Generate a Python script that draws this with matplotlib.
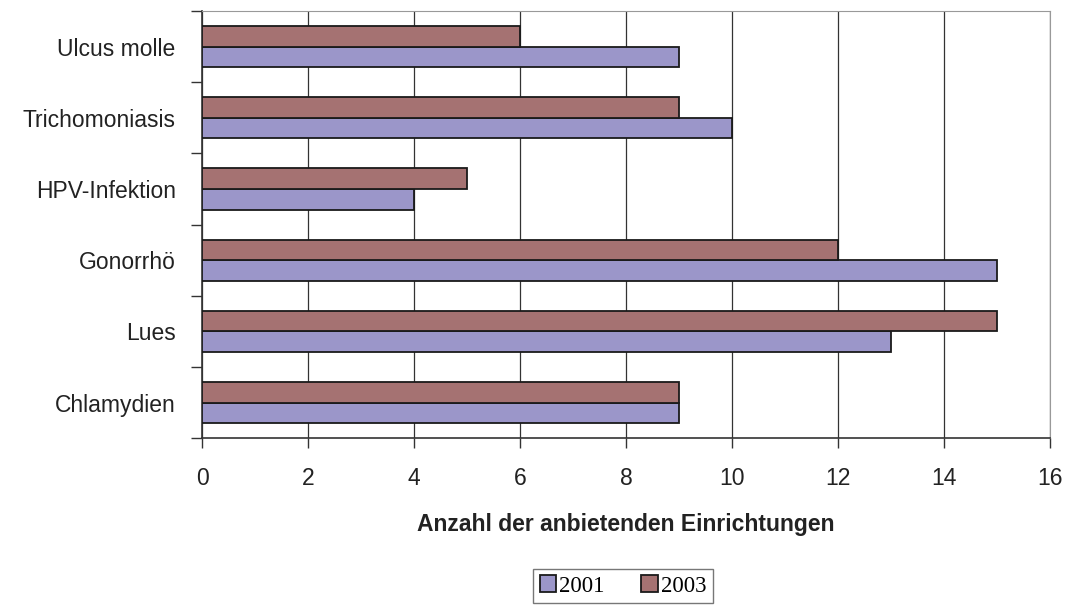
import numpy as np
import matplotlib
matplotlib.use('Agg')
import matplotlib.pyplot as plt

categories = ['Chlamydien', 'Lues', 'Gonorrhö', 'HPV-Infektion', 'Trichomoniasis', 'Ulcus molle']
y2001 = [9, 13, 15, 4, 10, 9]
y2003 = [9, 15, 12, 5, 9, 6]
xticks = [0, 2, 4, 6, 8, 10, 12, 14, 16]

plt.rcParams['font.family'] = ['Liberation Sans', 'DejaVu Sans']

fig = plt.figure(figsize=(10.69, 6.12), dpi=100)
ax = fig.add_axes([0.189, 0.284, 0.793, 0.698])

y = np.arange(len(categories))
h = 0.29
ax.barh(y - h / 2, y2001, height=h, color='#9b96c9', edgecolor='#1a1a1a', linewidth=1.3, label='2001', zorder=3)
ax.barh(y + h / 2, y2003, height=h, color='#a57272', edgecolor='#1a1a1a', linewidth=1.3, label='2003', zorder=3)

ax.set_xlim(0, 16)
ax.set_ylim(-0.5, len(categories) - 0.5)
ax.set_xticks(xticks)
ax.set_xticklabels([str(t) for t in xticks], fontsize=16.5, color='#222222')
ax.tick_params(axis='x', length=7, width=1, color='#333333', pad=13.5)

# category labels in the middle, tick marks at the boundaries
ax.set_yticks(y)
ax.set_yticklabels(categories, fontsize=16.5, color='#222222')
ax.tick_params(axis='y', which='major', length=0, pad=19)
ax.set_yticks(np.arange(-0.5, len(categories)), minor=True)
ax.tick_params(axis='y', which='minor', length=8, width=1, color='#333333')

ax.grid(axis='x', color='#333333', linewidth=0.9, zorder=0)
for s in ['top', 'right']:
    ax.spines[s].set_color('#999999')
for s in ['left', 'bottom']:
    ax.spines[s].set_color('#333333')
    ax.spines[s].set_linewidth(1.2)

ax.set_xlabel('Anzahl der anbietenden Einrichtungen', fontsize=16.5, fontweight='bold',
              color='#222222', labelpad=17)

leg = fig.legend(loc='center', bbox_to_anchor=(0.583, 0.0425), ncol=2, frameon=True,
                 prop={'family': 'Liberation Serif', 'size': 16.5}, fancybox=False,
                 handlelength=0.7, handleheight=0.7, handletextpad=0.15, columnspacing=1.6,
                 borderpad=0.3, borderaxespad=0)
leg.get_frame().set_edgecolor('#555555')
leg.get_frame().set_linewidth(1.0)

fig.savefig('out.png', dpi=100)
